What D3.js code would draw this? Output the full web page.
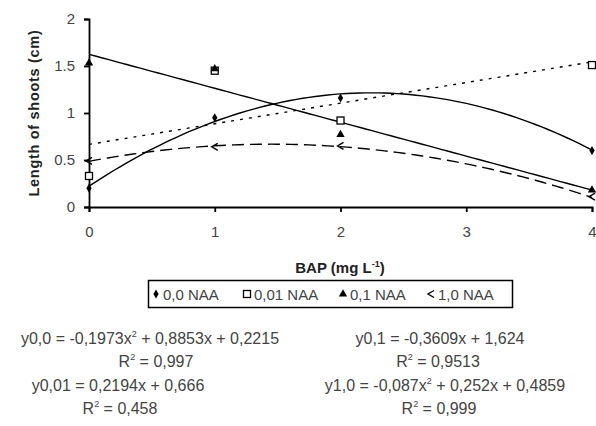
<!DOCTYPE html>
<html>
<head>
<meta charset="utf-8">
<script src="https://cdn.jsdelivr.net/npm/d3@7"></script>
<style>
  body { margin: 0; background: #fff; }
  svg text { font-family: "Liberation Sans", Arial, sans-serif; }
</style>
</head>
<body>
<div id="chart"></div>
<script>
// data
var bap = [0, 1, 2, 4];
var naa00 = [0.20, 0.95, 1.16, 0.60];
var naa001 = [0.33, 1.45, 0.92, 1.51];
var naa01 = [1.53, 1.47, 0.77, 0.18];
var naa10 = [0.49, 0.64, 0.65, 0.11];
var seriesNames = ["0,0 NAA", "0,01 NAA", "0,1 NAA", "1,0 NAA"];
// trendline coefficients [a, b, c] for a*x^2 + b*x + c
var fit00 = [-0.1973, 0.8853, 0.2215];
var fit001 = [0, 0.2194, 0.666];
var fit01 = [0, -0.3609, 1.624];
var fit10 = [-0.087, 0.252, 0.4859];
var xTicks = [0, 1, 2, 3, 4];
var yTicks = [0, 0.5, 1, 1.5, 2];
var equations = [
  ["y0,0 = -0,1973x", "2", " + 0,8853x + 0,2215"],
  ["R", "2", " = 0,997"],
  ["y0,01 = 0,2194x + 0,666"],
  ["R", "2", " = 0,458"],
  ["y0,1 = -0,3609x + 1,624"],
  ["R", "2", " = 0,9513"],
  ["y1,0 = -0,087x", "2", " + 0,252x + 0,4859"],
  ["R", "2", " = 0,999"]
];

var W = 596, H = 426;
var svg = d3.select("#chart").append("svg")
  .attr("width", W).attr("height", H);

var x = d3.scaleLinear().domain([0, 4]).range([89, 592]);
var y = d3.scaleLinear().domain([0, 2]).range([207, 19]);

// axes
svg.append("g")
  .attr("transform", "translate(0," + y(0) + ")")
  .call(d3.axisBottom(x).tickValues(xTicks).tickSize(5).tickPadding(14).tickFormat(d3.format("d")))
  .call(function(g) {
    g.selectAll("text").style("font-size", "15px").attr("fill", "#444");
    g.selectAll("line, path").attr("stroke", "#000").attr("stroke-width", 1.8);
  });

svg.append("g")
  .attr("transform", "translate(" + x(0) + ",0)")
  .call(d3.axisLeft(y).tickValues(yTicks).tickSize(5).tickPadding(9)
    .tickFormat(function(d) { return d; }))
  .call(function(g) {
    g.selectAll("text").style("font-size", "15px").attr("fill", "#444");
    g.selectAll("line, path").attr("stroke", "#000").attr("stroke-width", 1.8);
  });

svg.append("text")
  .attr("transform", "translate(39," + y(1) + ") rotate(-90)")
  .attr("text-anchor", "middle")
  .style("font-size", "14.5px").style("font-weight", "bold").style("letter-spacing", "0.7px")
  .attr("fill", "#222")
  .text("Length of shoots (cm)");

var xt = svg.append("text")
  .attr("x", 340).attr("y", 273)
  .attr("text-anchor", "middle")
  .style("font-size", "15px").style("font-weight", "bold").attr("fill", "#222");
xt.append("tspan").text("BAP (mg L");
xt.append("tspan").attr("dy", -6).style("font-size", "9px").text("-1");
xt.append("tspan").attr("dy", 6).text(")");

// trendlines
var trends = [
  { c: fit00, dash: null },
  { c: fit001, dash: "3,6" },
  { c: fit01, dash: null },
  { c: fit10, dash: "12,6" }
];
var xs = d3.range(0, 4.001, 0.05);
var line = d3.line().x(function(d) { return x(d[0]); }).y(function(d) { return y(d[1]); });
trends.forEach(function(t) {
  var pts = xs.map(function(v) { return [v, t.c[0] * v * v + t.c[1] * v + t.c[2]]; });
  svg.append("path")
    .attr("d", line(pts))
    .attr("fill", "none").attr("stroke", "#000").attr("stroke-width", 1.4)
    .attr("stroke-dasharray", t.dash);
});

// markers
function marker(g, kind, cx, cy) {
  if (kind === 0) {
    g.append("path").attr("d", d3.symbol(d3.symbolDiamond, 24)())
      .attr("transform", "translate(" + cx + "," + cy + ")").attr("fill", "#000");
  } else if (kind === 1) {
    g.append("rect").attr("x", cx - 3.5).attr("y", cy - 3.5).attr("width", 7).attr("height", 7)
      .attr("fill", "#fff").attr("stroke", "#000").attr("stroke-width", 1.3);
  } else if (kind === 2) {
    g.append("path").attr("d", d3.symbol(d3.symbolTriangle, 30)())
      .attr("transform", "translate(" + cx + "," + cy + ")").attr("fill", "#000");
  } else {
    g.append("path").attr("d", "M" + (cx + 3) + "," + (cy - 3.5) + "L" + (cx - 3) + "," + cy + "L" + (cx + 3) + "," + (cy + 3.5))
      .attr("fill", "none").attr("stroke", "#000").attr("stroke-width", 1.4);
  }
}
var allSeries = [naa00, naa001, naa01, naa10];
var mg = svg.append("g");
allSeries.forEach(function(s, k) {
  s.forEach(function(v, i) { marker(mg, k, x(bap[i]), y(v)); });
});

// legend
svg.append("rect").attr("x", 148.5).attr("y", 280.5).attr("width", 364).attr("height", 27)
  .attr("fill", "#fff").attr("stroke", "#000").attr("stroke-width", 1.5);
var legX = [156, 247, 343, 431];
seriesNames.forEach(function(n, k) {
  var lg = svg.append("g");
  marker(lg, k, legX[k], 294);
  lg.append("text").attr("x", legX[k] + 7).attr("y", 299.5)
    .style("font-size", "15px").attr("fill", "#444").text(n);
});

// equations
var eqPos = [[150, 344], [156, 367], [118, 391], [120, 414], [440, 344], [438, 367], [445, 391], [439, 414]];
equations.forEach(function(parts, i) {
  var t = svg.append("text").attr("x", eqPos[i][0]).attr("y", eqPos[i][1])
    .attr("text-anchor", "middle").style("font-size", "16px").attr("fill", "#444");
  parts.forEach(function(p, j) {
    var ts = t.append("tspan").text(p);
    if (j === 1) ts.attr("dy", -7).style("font-size", "9px");
    if (j === 2) ts.attr("dy", 7);
  });
});
</script>
</body>
</html>
